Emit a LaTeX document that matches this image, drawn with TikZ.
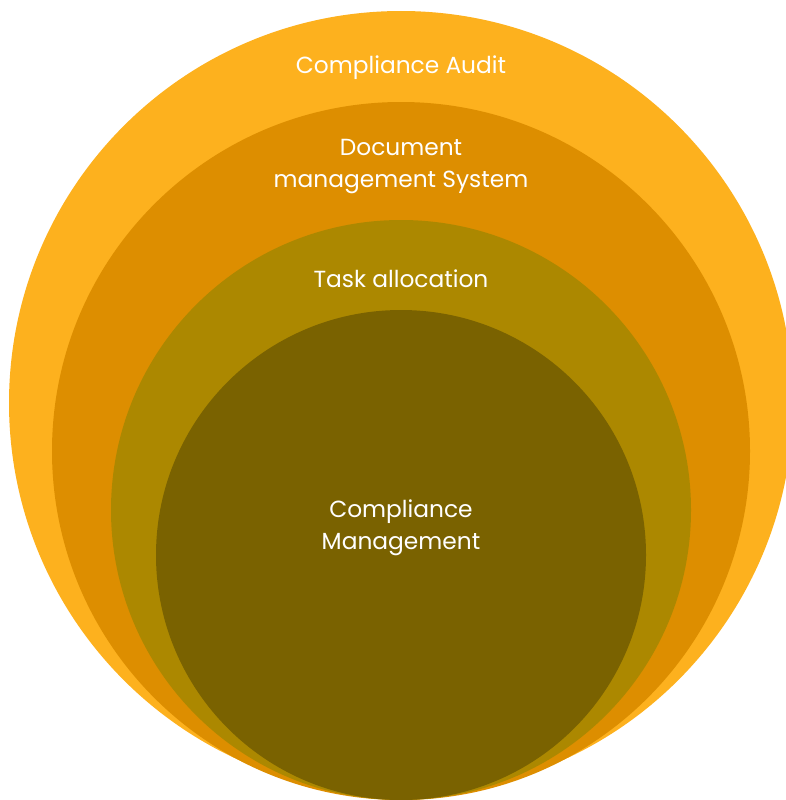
\documentclass[tikz,border=0pt]{standalone}
\usepackage{fontspec}
\setmainfont{Poppins}
\usepackage{tikz}
\definecolor{auditcol}{HTML}{FDB11E}
\definecolor{dmscol}{HTML}{DD8E00}
\definecolor{taskcol}{HTML}{AC8800}
\definecolor{mgmtcol}{HTML}{7A6200}
\tikzset{
  ring/.style={
           circle,
           draw=none,
           inner sep=0pt},
  ringlabel/.style={
           text=white,
           align=center,
           inner sep=0pt,
           font=\fontsize{23.3}{32}\selectfont}
    }
\begin{document}
\begin{tikzpicture}[x=1pt,y=-1pt]
      \useasboundingbox (0,0) rectangle (786,800);
      \node[ring, fill=auditcol, minimum size=784pt] (c1) at (401,403) {};
      \node[ring, fill=dmscol, minimum size=698pt] (c2) at (401,451) {};
      \node[ring, fill=taskcol, minimum size=580pt] (c3) at (401,510) {};
      \node[ring, fill=mgmtcol, minimum size=490pt] (c4) at (401,555) {};
      \node[ringlabel] (l1) at (401,68) {Compliance Audit};
      \node[ringlabel] (l2) at (401,167) {Document\\management System};
      \node[ringlabel] (l3) at (401,279) {Task allocation};
      \node[ringlabel] (l4) at (401,528) {Compliance\\Management};
\end{tikzpicture}
\end{document}
